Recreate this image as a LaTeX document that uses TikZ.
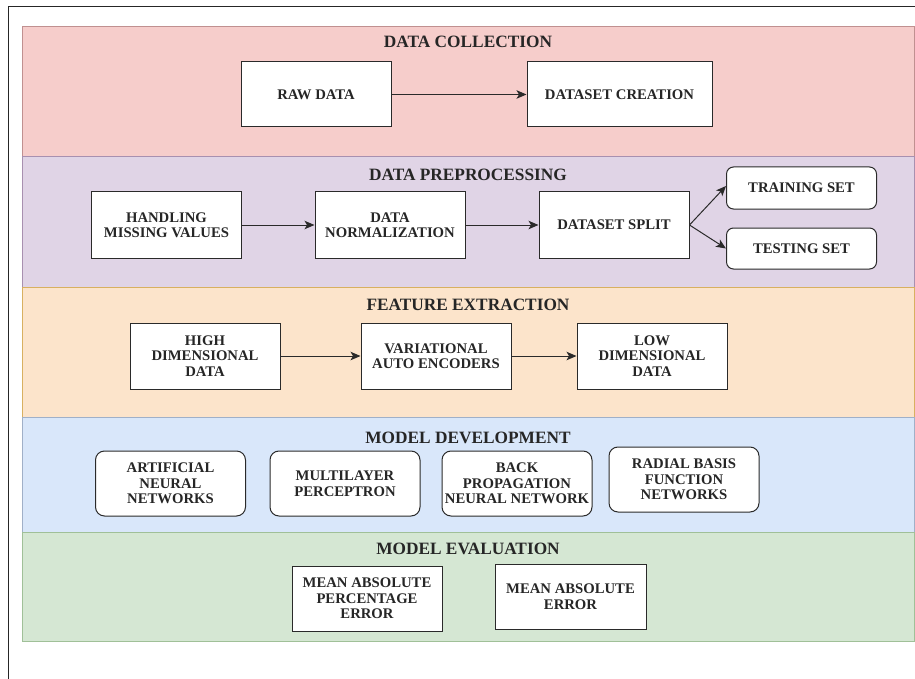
\documentclass[tikz,border=0pt]{standalone}
\usepackage{fontspec}
\setmainfont{Liberation Serif}
\usetikzlibrary{arrows.meta}
\definecolor{pinkfill}{HTML}{F6CDCB}
\definecolor{pinkline}{HTML}{C09090}
\definecolor{purpfill}{HTML}{E0D4E6}
\definecolor{purpline}{HTML}{A890B0}
\definecolor{orfill}{HTML}{FCE4CB}
\definecolor{orline}{HTML}{D8B060}
\definecolor{bluefill}{HTML}{D9E7FA}
\definecolor{blueline}{HTML}{A0B0C8}
\definecolor{grfill}{HTML}{D5E7D3}
\definecolor{grline}{HTML}{A0C098}
\definecolor{boxline}{HTML}{2A2A2A}
\tikzset{
  band/.style={line width=0.9pt},
  bandtitle/.style={font=\fontsize{17.3}{19}\selectfont\bfseries, text=black!85},
  sqbox/.style={draw=boxline, line width=1pt, fill=white, minimum width=150pt, minimum height=65pt, align=center, inner sep=1pt, font=\fontsize{14.7}{15.5}\selectfont\bfseries, text=black!85},
  rbox/.style={sqbox, rounded corners=9pt},
  flow/.style={draw=boxline, line width=1pt, -{Stealth[length=10pt,width=8.5pt,inset=2.5pt]}}
}
\begin{document}
\begin{tikzpicture}[x=1pt,y=-1pt]
\useasboundingbox (0,0) rectangle (915,679);
\fill[white] (0,0) rectangle (915,679);
% outer frame
\draw[line width=1pt, black!85] (8,679) -- (8,6.5) -- (915,6.5);
% bands
\filldraw[band, fill=pinkfill, draw=pinkline] (22,26) rectangle (914,156);
\filldraw[band, fill=purpfill, draw=purpline] (22,156) rectangle (914,287);
\filldraw[band, fill=orfill, draw=orline] (22,287) rectangle (914,417);
\filldraw[band, fill=bluefill, draw=blueline] (22,417) rectangle (914,532);
\filldraw[band, fill=grfill, draw=grline] (22,532) rectangle (914,641);
% titles
\node[bandtitle] (t1) at (468,42) {DATA COLLECTION};
\node[bandtitle] (t2) at (468,175) {DATA PREPROCESSING};
\node[bandtitle] (t3) at (468,305) {FEATURE EXTRACTION};
\node[bandtitle] (t4) at (468,438) {MODEL DEVELOPMENT};
\node[bandtitle] (t5) at (468,549) {MODEL EVALUATION};
% data collection
\node[sqbox] (raw) at (316,94.5) {RAW DATA};
\node[sqbox, minimum width=185pt] (create) at (619.5,94.5) {DATASET CREATION};
\draw[flow] (raw.east) -- (create.west);
% preprocessing
\node[sqbox, minimum height=66pt] (miss) at (166.5,225) {HANDLING\\MISSING VALUES};
\node[sqbox, minimum height=66pt] (norm) at (390,225) {DATA\\NORMALIZATION};
\node[sqbox, minimum height=66pt] (split) at (614,225) {DATASET SPLIT};
\node[rbox, minimum height=42pt, rounded corners=7pt] (train) at (801.5,188) {TRAINING SET};
\node[rbox, minimum height=41pt, rounded corners=7pt] (test) at (801.5,248.5) {TESTING SET};
\draw[flow] (miss.east) -- (norm.west);
\draw[flow] (norm.east) -- (split.west);
\draw[flow] (split.east) -- ([yshift=2pt]train.west);
\draw[flow] (split.east) -- (test.west);
% feature extraction
\node[sqbox, minimum height=66pt] (high) at (205,356) {HIGH\\DIMENSIONAL\\DATA};
\node[sqbox, minimum height=66pt] (vae) at (436,356) {VARIATIONAL\\AUTO ENCODERS};
\node[sqbox, minimum height=66pt] (low) at (652,356) {LOW\\DIMENSIONAL\\DATA};
\draw[flow] (high.east) -- (vae.west);
\draw[flow] (vae.east) -- (low.west);
% model development
\node[rbox] (ann) at (170.5,483.5) {ARTIFICIAL\\NEURAL\\NETWORKS};
\node[rbox] (mlp) at (345,483.5) {MULTILAYER\\PERCEPTRON};
\node[rbox] (bpnn) at (517,483.5) {BACK\\PROPAGATION\\NEURAL NETWORK};
\node[rbox] (rbfn) at (684,479.5) {RADIAL BASIS\\FUNCTION\\NETWORKS};
% model evaluation
\node[sqbox] (mape) at (367,598.5) {MEAN ABSOLUTE\\PERCENTAGE\\ERROR};
\node[sqbox, minimum width=151pt] (mae) at (570.5,596.5) {MEAN ABSOLUTE\\ERROR};
\end{tikzpicture}
\end{document}
